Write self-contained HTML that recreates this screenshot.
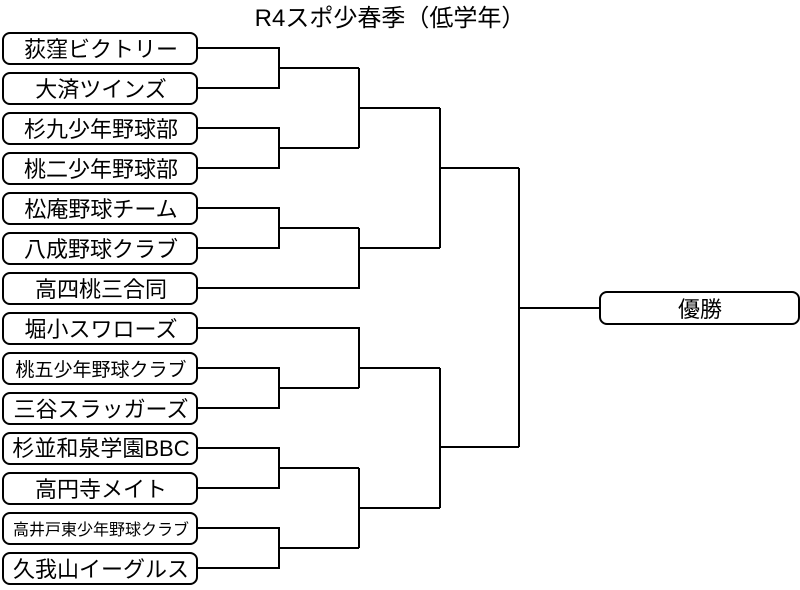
<!DOCTYPE html>
<html><head><meta charset="utf-8"><style>
body{margin:0;background:#fff;}
svg text{font-family:"Liberation Sans","Noto Sans CJK JP",sans-serif;fill:#000;}
</style></head><body>
<svg width="800" height="585" viewBox="0 0 800 585" xmlns="http://www.w3.org/2000/svg">
<text x="390" y="26" font-size="24" text-anchor="middle">R4スポ少春季（低学年）</text>
<g fill="#fff" stroke="#000" stroke-width="2">
<rect x="3" y="33" width="194" height="31" rx="7"/>
<rect x="3" y="73" width="194" height="31" rx="7"/>
<rect x="3" y="113" width="194" height="31" rx="7"/>
<rect x="3" y="153" width="194" height="31" rx="7"/>
<rect x="3" y="193" width="194" height="31" rx="7"/>
<rect x="3" y="233" width="194" height="31" rx="7"/>
<rect x="3" y="273" width="194" height="31" rx="7"/>
<rect x="3" y="313" width="194" height="31" rx="7"/>
<rect x="3" y="353" width="194" height="31" rx="7"/>
<rect x="3" y="393" width="194" height="31" rx="7"/>
<rect x="3" y="433" width="194" height="31" rx="7"/>
<rect x="3" y="473" width="194" height="31" rx="7"/>
<rect x="3" y="513" width="194" height="31" rx="7"/>
<rect x="3" y="553" width="194" height="31" rx="7"/>
<rect x="600" y="292" width="199" height="32" rx="7"/>
</g>
<g font-size="22" text-anchor="middle">
<text x="101" y="57">荻窪ビクトリー</text>
<text x="101" y="97">大済ツインズ</text>
<text x="101" y="137">杉九少年野球部</text>
<text x="101" y="177">桃二少年野球部</text>
<text x="101" y="217">松庵野球チーム</text>
<text x="101" y="257">八成野球クラブ</text>
<text x="101" y="297">高四桃三合同</text>
<text x="101" y="337">堀小スワローズ</text>
<text x="101" y="376" font-size="19">桃五少年野球クラブ</text>
<text x="101" y="417">三谷スラッガーズ</text>
<text x="101" y="456" font-size="22">杉並和泉学園BBC</text>
<text x="101" y="497">高円寺メイト</text>
<text x="101" y="535" font-size="16">高井戸東少年野球クラブ</text>
<text x="101" y="577">久我山イーグルス</text>
<text x="700" y="317">優勝</text>
</g>
<g fill="none" stroke="#000" stroke-width="2">
<path d="M198 48H279V88H198M279 68H359"/>
<path d="M198 128H279V168H198M279 148H359"/>
<path d="M198 208H279V248H198M279 228H359"/>
<path d="M198 368H279V408H198M279 388H359"/>
<path d="M198 448H279V488H198M279 468H359"/>
<path d="M198 528H279V568H198M279 548H359"/>
<path d="M359 68V148M359 108H440"/>
<path d="M359 228V288H198M359 248H440"/>
<path d="M198 328H359V388M359 368H440"/>
<path d="M359 468V548M359 508H440"/>
<path d="M440 108V248M440 168H519"/>
<path d="M440 368V508M440 447H519"/>
<path d="M519 168V447M519 308H600"/>
</g>
</svg>
</body></html>
